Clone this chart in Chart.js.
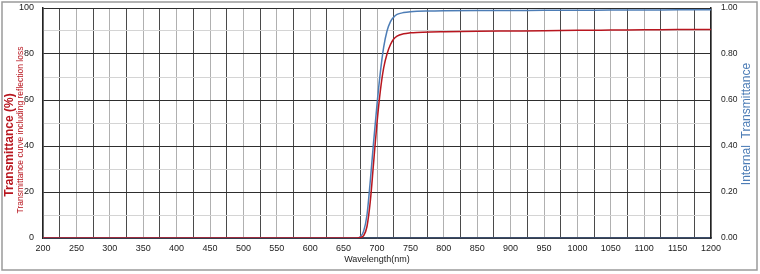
<!DOCTYPE html>
<html>
<head>
<meta charset="utf-8">
<script src="https://cdn.jsdelivr.net/npm/chart.js@4"></script>
<style>
  html, body { margin: 0; padding: 0; background: #fff; }
  #wrap { position: relative; width: 760px; height: 274px; }
</style>
</head>
<body>
<div id="wrap"><canvas id="chart" width="760" height="274"></canvas></div>
<script>
// wavelength (nm)
const wavelengths = [200, 600, 660, 670, 675, 680, 685, 690, 695, 700, 705, 710, 715, 720, 725, 730, 740, 750, 760, 780, 800, 850, 900, 950, 1000, 1050, 1100, 1150, 1200];
// transmittance incl. reflection loss (%)
const transmittance = [0, 0, 0, 0, 0.2, 1, 5, 16, 33, 50, 64, 74, 80, 84, 86.5, 87.8, 88.8, 89.2, 89.4, 89.6, 89.7, 89.9, 90.0, 90.1, 90.3, 90.4, 90.5, 90.6, 90.7];
// internal transmittance (0-1)
const internalT = [0, 0, 0, 0, 0.005, 0.03, 0.1, 0.25, 0.42, 0.58, 0.72, 0.83, 0.9, 0.94, 0.96, 0.972, 0.98, 0.984, 0.986, 0.987, 0.988, 0.989, 0.989, 0.990, 0.990, 0.991, 0.991, 0.992, 0.992];

const xTicks = [200, 250, 300, 350, 400, 450, 500, 550, 600, 650, 700, 750, 800, 850, 900, 950, 1000, 1050, 1100, 1150, 1200];
const leftTicks = [0, 20, 40, 60, 80, 100];
const rightTicks = ["0.00", "0.20", "0.40", "0.60", "0.80", "1.00"];

const RED = "#b8161f";
const BLUE = "#4d7db6";

// titles + outer frame
const decor = {
    id: "decor",
    beforeDraw(chart) {
        const c = chart.ctx;
        c.save();
        c.fillStyle = "#fff";
        c.fillRect(0, 0, chart.width, chart.height);
        c.strokeStyle = "#9a9a9a";
        c.lineWidth = 1.5;
        c.strokeRect(2, 2, 755, 268);
        c.restore();
    },
    afterDraw(chart) {
        const c = chart.ctx;
        c.save();
        c.textAlign = "center";
        c.textBaseline = "middle";

        c.translate(10, 145);
        c.rotate(-Math.PI / 2);
        c.fillStyle = RED;
        c.font = "bold 12px 'Liberation Sans', Arial, sans-serif";
        c.fillText("Transmittance (%)", 0, 0);
        c.restore();

        c.save();
        c.textAlign = "center";
        c.textBaseline = "middle";
        c.translate(21, 130);
        c.rotate(-Math.PI / 2);
        c.fillStyle = RED;
        c.font = "8.5px 'Liberation Sans', Arial, sans-serif";
        c.fillText("Transmittance curve including reflection loss", 0, 0);
        c.restore();

        c.save();
        c.textAlign = "center";
        c.textBaseline = "middle";
        c.translate(747, 124);
        c.rotate(-Math.PI / 2);
        c.fillStyle = BLUE;
        c.font = "12px 'Liberation Sans', Arial, sans-serif";
        c.fillText("Internal  Transmittance", 0, 0);
        c.restore();

        c.save();
        c.textAlign = "center";
        c.textBaseline = "middle";
        c.fillStyle = "#222";
        c.font = "9px 'Liberation Sans', Arial, sans-serif";
        c.fillText("Wavelength(nm)", (chart.chartArea.left + chart.chartArea.right) / 2, 260);
        c.restore();
    }
};

const ctx = document.getElementById("chart").getContext("2d");
new Chart(ctx, {
    type: "line",
    data: {
        datasets: [{
            label: "Transmittance",
            data: wavelengths.map((w, i) => ({ x: w, y: transmittance[i] })),
            borderColor: RED,
            borderWidth: 1.5,
            pointRadius: 0,
            cubicInterpolationMode: "monotone",
            yAxisID: "y"
        }, {
            label: "Internal Transmittance",
            data: wavelengths.map((w, i) => ({ x: w, y: internalT[i] })),
            borderColor: BLUE,
            borderWidth: 1.5,
            pointRadius: 0,
            cubicInterpolationMode: "monotone",
            yAxisID: "y2"
        }]
    },
    options: {
        responsive: false,
        animation: false,
        layout: { padding: { top: 8, left: 0, right: 0, bottom: 0 } },
        plugins: { legend: { display: false }, tooltip: { enabled: false } },
        scales: {
            x: {
                type: "linear",
                min: 200,
                max: 1200,
                afterFit: s => { s.height = 36; s.paddingLeft = 0; s.paddingRight = 0; },
                ticks: {
                    stepSize: 25,
                    autoSkip: false,
                    maxRotation: 0,
                    padding: 5,
                    color: "#222",
                    font: { size: 9, family: "'Liberation Sans', Arial, sans-serif" },
                    callback: v => xTicks.includes(v) ? String(v) : ""
                },
                grid: {
                    drawTicks: false,
                    color: c => c.tick.value % 50 === 0 ? "#b0b0b0" : "#4a4a4a",
                    lineWidth: 1
                },
                border: { color: "#3c4d6a", width: 1.5 }
            },
            y: {
                position: "left",
                min: 0,
                max: 100,
                afterFit: s => { s.width = 43; s.paddingTop = 0; s.paddingBottom = 0; },
                ticks: {
                    stepSize: 10,
                    padding: 9,
                    color: "#222",
                    font: { size: 9, family: "'Liberation Sans', Arial, sans-serif" },
                    callback: v => leftTicks.includes(v) ? String(v) : ""
                },
                grid: {
                    drawTicks: false,
                    color: c => c.tick.value % 20 === 0 ? "#2e2e2e" : "#d4d4d4",
                    lineWidth: 1
                },
                border: { color: "#222", width: 1.5 }
            },
            y2: {
                position: "right",
                min: 0,
                max: 1,
                afterFit: s => { s.width = 49; s.paddingTop = 0; s.paddingBottom = 0; },
                ticks: {
                    stepSize: 0.1,
                    padding: 10,
                    color: "#222",
                    font: { size: 8.5, family: "'Liberation Sans', Arial, sans-serif" },
                    callback: v => {
                        const t = v.toFixed(2);
                        return rightTicks.includes(t) ? t : "";
                    }
                },
                grid: { display: false, drawTicks: false },
                border: { color: "#222", width: 1.5 }
            }
        }
    },
    plugins: [decor]
});
</script>
</body>
</html>
